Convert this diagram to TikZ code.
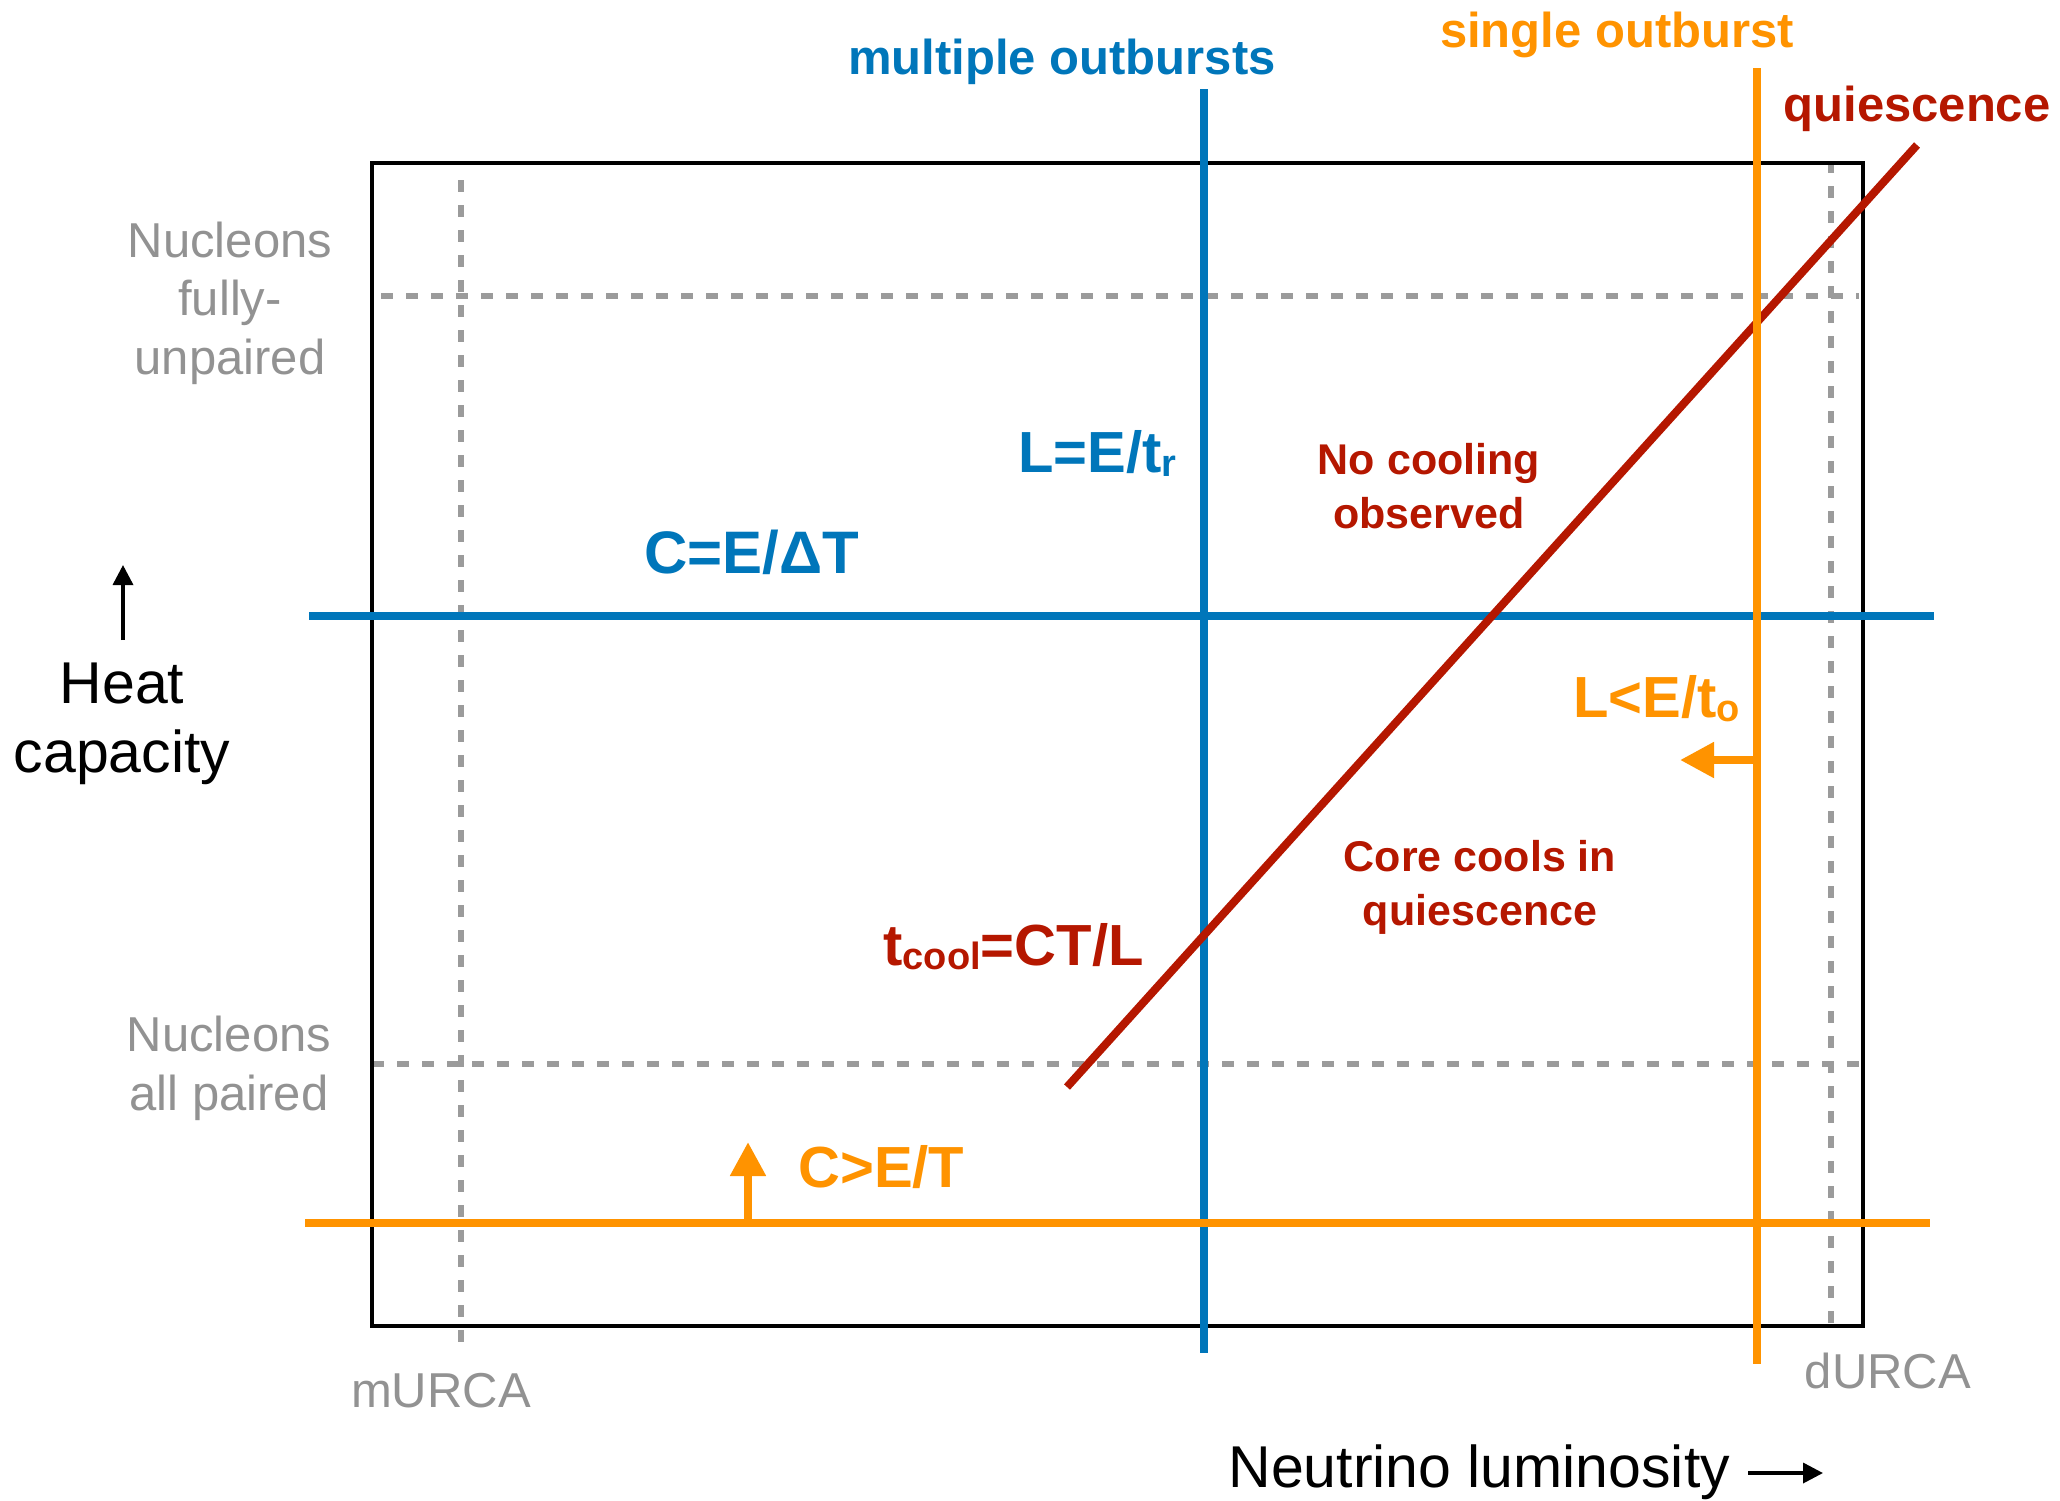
\documentclass[tikz,border=0pt]{standalone}
\usepackage{fontspec}
\setmainfont{Liberation Sans}
\usetikzlibrary{arrows.meta}
\definecolor{kblue}{HTML}{0076BA}
\definecolor{korange}{HTML}{FF9300}
\definecolor{kred}{HTML}{B51700}
\definecolor{kgraytext}{HTML}{929292}
\definecolor{kgrayline}{HTML}{9B9B9B}
% lowered, smaller subscript used in the formulas
\newcommand{\lowsub}[1]{\raisebox{-2pt}{\fontsize{19}{19}\selectfont #1}}
\begin{document}
\begin{tikzpicture}[x=0.5pt,y=-0.5pt,
  guide/.style={kgrayline,line width=3.2pt,dash pattern=on 6pt off 6.5pt},
  frame/.style={black,line width=1.7pt},
  bound/.style={line width=4pt},
  lbl/.style={inner sep=0pt,anchor=base},
  title/.style={lbl,font=\fontsize{24.5}{29}\selectfont\bfseries},
  formula/.style={lbl,anchor=base west,font=\fontsize{29}{34}\selectfont\bfseries},
  note/.style={lbl,align=center,text=kred,font=\fontsize{21.5}{27}\selectfont\bfseries},
  graylbl/.style={lbl,align=center,text=kgraytext,font=\fontsize{24.5}{29.25}\selectfont},
  axislbl/.style={lbl,font=\fontsize{29.5}{34.5}\selectfont},
  axisarrow/.style={black,line width=1.75pt,-{Triangle[length=10pt,width=10pt]}},
  bigarrow/.style={korange,line width=4pt,-{Triangle[length=17pt,width=17pt]}}
]
\useasboundingbox (0,0) rectangle (2060,1500);

% reference levels (pairing states and Urca processes)
\draw[guide] (461,180) -- (461,1352);
\draw[guide] (1831,161) -- (1831,1330);
\draw[guide] (381,296) -- (1859,296);
\draw[guide] (372,1064) -- (1863,1064);

% parameter-space frame
\draw[frame] (372,163) rectangle (1863,1326);

% multiple-outburst constraints
\draw[kblue,bound] (1204,89) -- (1204,1353);
\draw[kblue,bound] (309,616) -- (1934,616);

% quiescent cooling boundary
\draw[kred,bound] (1067,1087) -- (1917,145);

% single-outburst constraints
\draw[korange,bound] (1756.6,68) -- (1756.6,1364);
\draw[korange,bound] (305,1223) -- (1930,1223);
\coordinate (lumfoot) at (1756.6,760);
\coordinate (lumtip) at (1680,760);
\draw[bigarrow] (lumfoot) -- (lumtip);
\coordinate (capfoot) at (748,1223);
\coordinate (captip) at (748,1142);
\draw[bigarrow] (capfoot) -- (captip);

% headings
\node[title,text=kblue] (multi) at (1062,74) {multiple outbursts};
\node[title,text=korange] (single) at (1617,47) {single outburst};
\node[title,text=kred] (quiet) at (1917,121) {quiescence};

% formulas
\node[formula,text=kblue] (lrec) at (1018,472) {L=E/t\lowsub{r}};
\node[formula,text=kblue,font=\fontsize{30}{35}\selectfont\bfseries] (cdelta) at (644,573) {C=E/ΔT};
\node[formula,text=kred] (tcool) at (883,965) {t\lowsub{cool}=CT/L};
\node[formula,text=korange] (lout) at (1573,717) {L<E/t\lowsub{o}};
\node[formula,text=korange] (cmin) at (798,1187) {C>E/T};

% regions (multi-line nodes sit on their last baseline)
\node[note] (nocool) at (1429,528) {No cooling\\observed};
\node[note] (corecool) at (1480,925) {Core cools in\\quiescence};

% gray level labels
\node[graylbl] (unpaired) at (230,374) {Nucleons\\fully-\\unpaired};
\node[graylbl] (paired) at (229,1110) {Nucleons\\all paired};
\node[graylbl] (murca) at (441,1407) {mURCA};
\node[graylbl] (durca) at (1888,1388) {dURCA};

% axes
\node[axislbl,align=center] (heat) at (122,772) {Heat\\capacity};
\coordinate (heatfoot) at (123,640);
\coordinate (heattip) at (123,565);
\draw[axisarrow] (heatfoot) -- (heattip);
\node[axislbl,anchor=base west] (nu) at (1228,1487) {Neutrino luminosity};
\coordinate (nufoot) at (1748,1473);
\coordinate (nutip) at (1823,1473);
\draw[axisarrow] (nufoot) -- (nutip);
\end{tikzpicture}
\end{document}
